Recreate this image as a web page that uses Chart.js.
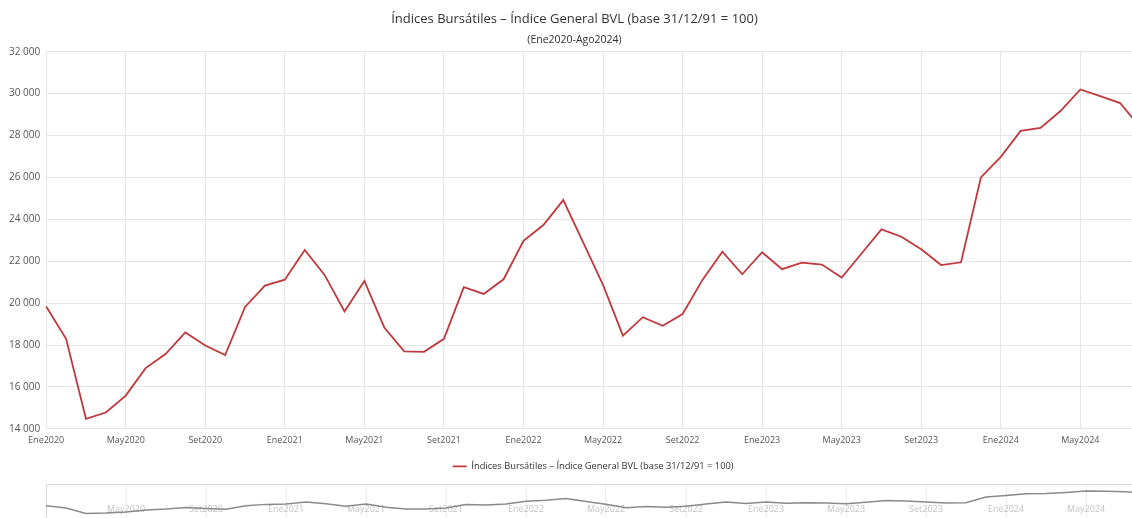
<!DOCTYPE html>
<html>
<head>
<meta charset="utf-8">
<script src="https://cdn.jsdelivr.net/npm/chart.js@4.4.1/dist/chart.umd.min.js"></script>
<style>
  html, body { margin: 0; padding: 0; background: #fff; overflow: hidden; }
  #wrap { position: relative; width: 1146px; height: 518px; }
  #main { position: absolute; left: 0; top: 0; }
  #nav { position: absolute; left: 0; top: 483px; }
</style>
</head>
<body>
<div id="wrap">
  <canvas id="main" width="1146" height="481"></canvas>
  <canvas id="nav" width="1146" height="60"></canvas>
</div>
<script>
// Categories (monthly, Ene2020 - Ago2024)
var months = [
  'Ene2020','Feb2020','Mar2020','Abr2020','May2020','Jun2020','Jul2020','Ago2020','Set2020','Oct2020','Nov2020','Dic2020',
  'Ene2021','Feb2021','Mar2021','Abr2021','May2021','Jun2021','Jul2021','Ago2021','Set2021','Oct2021','Nov2021','Dic2021',
  'Ene2022','Feb2022','Mar2022','Abr2022','May2022','Jun2022','Jul2022','Ago2022','Set2022','Oct2022','Nov2022','Dic2022',
  'Ene2023','Feb2023','Mar2023','Abr2023','May2023','Jun2023','Jul2023','Ago2023','Set2023','Oct2023','Nov2023','Dic2023',
  'Ene2024','Feb2024','Mar2024','Abr2024','May2024','Jun2024','Jul2024','Ago2024'
];

// Índice General BVL
var igbvl = [
  19840, 18300, 14480, 14780, 15590, 16900, 17570, 18600, 17980, 17520, 19820, 20840,
  21120, 22540, 21350, 19600, 21060, 18840, 17700, 17680, 18300, 20760, 20440, 21140,
  22980, 23730, 24920, 22900, 20870, 18450, 19330, 18920, 19480, 21110, 22460, 21380,
  22430, 21620, 21930, 21840, 21220, 22370, 23520, 23170, 22570, 21820, 21950, 26000,
  26980, 28220, 28360, 29170, 30200, 29880, 29550, 28400
];

// Tick labels
var xTickLabels = ['Ene2020','May2020','Set2020','Ene2021','May2021','Set2021','Ene2022','May2022',
  'Set2022','Ene2023','May2023','Set2023','Ene2024','May2024'];
var yTicks = [14000, 16000, 18000, 20000, 22000, 24000, 26000, 28000, 30000, 32000];

var seriesName = 'Índices Bursátiles – Índice General BVL (base 31/12/91 = 100)';
var titleText = seriesName;
var subtitleText = '(Ene2020-Ago2024)';

Chart.defaults.font.family = '"Open Sans", sans-serif';
Chart.defaults.animation = false;

function fmt(v) {
  return String(v).replace(/\B(?=(\d{3})+(?!\d))/g, ' ');
}

function isLabeled(i) {
  return xTickLabels.indexOf(months[i]) !== -1;
}

// legend centered on the plot area instead of the canvas
var legendShift = {
  id: 'legendShift',
  afterLayout: function (chart) {
    var lg = chart.legend;
    var dx = (chart.chartArea.left + chart.chartArea.right) / 2 - (lg.left + lg.right) / 2;
    lg.left += dx;
    lg.right += dx;
  }
};

new Chart(document.getElementById('main'), {
  type: 'line',
  data: {
    labels: months,
    datasets: [{
      label: seriesName,
      data: igbvl,
      borderColor: '#c0393d',
      backgroundColor: '#c0393d',
      borderWidth: 1.8,
      pointRadius: 0,
      tension: 0
    }]
  },
  options: {
    responsive: false,
    layout: { padding: { left: 3, right: 0, top: 0, bottom: 0 } },
    plugins: {
      title: {
        display: true,
        text: titleText,
        color: '#333',
        font: { size: 13, weight: 'normal' },
        padding: { top: 11, bottom: 4 }
      },
      subtitle: {
        display: true,
        text: subtitleText,
        color: '#333',
        font: { size: 10.5 },
        padding: { top: 3, bottom: 5.5 }
      },
      legend: {
        position: 'bottom',
        labels: {
          color: '#333',
          font: { size: 9.3 },
          usePointStyle: true,
          pointStyle: 'line',
          pointStyleWidth: 14,
          padding: 10
        }
      },
      tooltip: { enabled: false }
    },
    scales: {
      x: {
        grid: {
          drawTicks: false,
          color: function (ctx) { return isLabeled(ctx.index) ? '#e6e6e6' : 'rgba(0,0,0,0)'; }
        },
        border: { color: '#e6e6e6' },
        ticks: {
          autoSkip: false,
          maxRotation: 0,
          padding: 6,
          color: '#555',
          font: { size: 9 },
          callback: function (v, i) { return isLabeled(i) ? months[i] : ''; }
        }
      },
      y: {
        min: yTicks[0],
        max: yTicks[yTicks.length - 1],
        grid: { drawTicks: false, color: '#e6e6e6' },
        border: { display: false },
        afterBuildTicks: function (axis) {
          axis.ticks = yTicks.map(function (v) { return { value: v }; });
        },
        ticks: {
          padding: 6,
          color: '#555',
          font: { size: 10 },
          callback: function (v) { return fmt(v); }
        }
      }
    }
  },
  plugins: [legendShift]
});

// navigator labels drawn inside the small plot
var navLabels = {
  id: 'navLabels',
  beforeDatasetsDraw: function (chart) {
    var ctx = chart.ctx;
    var xs = chart.scales.x;
    var area = chart.chartArea;
    ctx.save();
    ctx.font = '9px "Open Sans", sans-serif';
    ctx.fillStyle = '#c4c4c4';
    ctx.textAlign = 'center';
    ctx.textBaseline = 'middle';
    for (var i = 0; i < months.length; i++) {
      if (i > 0 && isLabeled(i)) {
        ctx.fillText(months[i], xs.getPixelForValue(i), area.top + 25);
      }
    }
    ctx.restore();
  }
};

new Chart(document.getElementById('nav'), {
  type: 'line',
  data: {
    labels: months,
    datasets: [{
      data: igbvl,
      borderColor: '#8a8a8a',
      borderWidth: 1.5,
      pointRadius: 0,
      tension: 0
    }]
  },
  options: {
    responsive: false,
    layout: { padding: { left: 38, right: 0, top: 1, bottom: 0 } },
    plugins: { legend: { display: false }, tooltip: { enabled: false } },
    scales: {
      x: {
        position: 'top',
        grid: {
          drawTicks: false,
          color: function (ctx) { return isLabeled(ctx.index) ? '#ededed' : 'rgba(0,0,0,0)'; }
        },
        border: { color: '#d8d8d8' },
        ticks: { display: false }
      },
      y: {
        min: -6000,
        max: 35000,
        grid: { display: false },
        border: { color: '#d8d8d8' },
        ticks: { display: false }
      }
    }
  },
  plugins: [navLabels]
});
</script>
</body>
</html>
